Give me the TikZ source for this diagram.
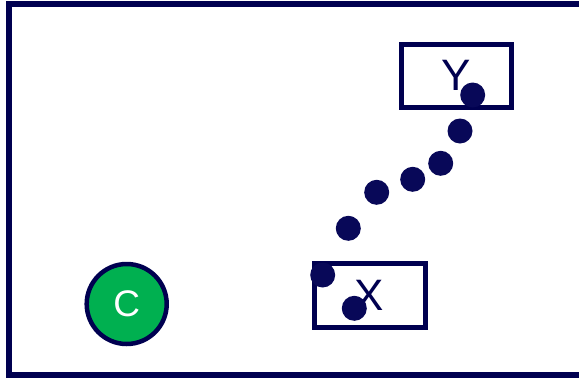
\documentclass[tikz,border=0pt]{standalone}
\usepackage{fontspec}
\setmainfont{Liberation Sans}
\definecolor{navy}{RGB}{0,0,80}
\definecolor{dotnavy}{RGB}{8,8,88}
\definecolor{cgreen}{RGB}{0,176,80}
\tikzset{
  frame/.style={draw=navy, line width=6pt},
  labelbox/.style={draw=navy, line width=5pt, fill=white, inner sep=0pt,
    font=\fontsize{44}{44}\selectfont, text=navy},
  token/.style={circle, fill=dotnavy, inner sep=0pt, minimum size=25pt},
  cnode/.style={circle, draw=navy, line width=4.5pt, fill=cgreen, inner sep=0pt,
    minimum size=80pt, font=\fontsize{37}{37}\selectfont, text=white}
}
\begin{document}
\begin{tikzpicture}[x=1pt, y=-1pt]
  \useasboundingbox (0,0) rectangle (579,378);
  \begin{scope}
    \clip (0,0) rectangle (579,378);
    \fill[white] (0,0) rectangle (579,378);
    \draw[frame] (9,3.5) rectangle (584,374.5);
  \end{scope}

  % labelled boxes
  \node[labelbox, minimum width=110pt, minimum height=63.5pt] (Y) at (456,75.75) {Y};
  \node[labelbox, minimum width=111pt, minimum height=64.5pt] (X) at (369.5,295.25) {X};

  % circle C
  \node[cnode] (C) at (126.7,304) {C};

  % trail of tokens from X up to Y
  \node[token] (t1) at (472.7,95) {};
  \node[token] (t2) at (460,131) {};
  \node[token] (t3) at (440.7,163.3) {};
  \node[token] (t4) at (412.7,179.3) {};
  \node[token] (t5) at (376.7,192.3) {};
  \node[token] (t6) at (348.3,228.3) {};
  \node[token] (t7) at (322.7,275) {};
  \node[token] (t8) at (354.3,308.3) {};
\end{tikzpicture}
\end{document}
